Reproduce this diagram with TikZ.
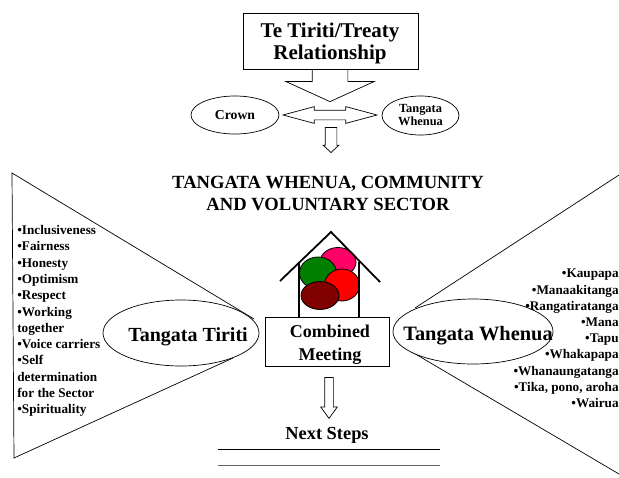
\documentclass[tikz,border=0pt]{standalone}
\usepackage{fontspec}
\setmainfont{Liberation Serif}
\usetikzlibrary{shapes.geometric,shapes.arrows}
\tikzset{
	txt/.style 2 args={font=\bfseries\fontsize{#1}{#2}\selectfont, inner sep=0pt},
	oval/.style={draw, ellipse, fill=white, inner sep=0pt},
	blob/.style={draw, ellipse, line width=0.8pt, inner sep=0pt},
	blockarrow/.style={draw, fill=white, single arrow, rotate=-90, anchor=tip, inner sep=0pt, single arrow head indent=0pt},
}
\begin{document}
\begin{tikzpicture}[x=1pt, y=-1pt, line width=0.7pt]
	\useasboundingbox (0,0) rectangle (619,477);

	% Treaty
	\node[blockarrow, minimum height=37pt, single arrow head extend=26.5pt, single arrow tip angle=131] (treatyarrow) at (330,102) {\rule{0pt}{35pt}};
	\node[draw, fill=white, minimum width=175pt, minimum height=56pt, inner sep=0pt] (treaty) at (330.5,41) {};
	\node[txt={21}{22}, align=center] (treatytext) at (330,43) {Te Tiriti/Treaty\\Relationship};

	% Partners
	\node[oval, minimum width=88pt, minimum height=38pt, txt={13.7}{14}] (crown) at (235,115) {Crown};
	\node[oval, minimum width=77pt, minimum height=39pt, txt={12.4}{13}, align=center] (tangata) at (420.5,115.5) {Tangata\\Whenua};
	\node[draw, fill=white, double arrow, minimum height=94pt, inner sep=0pt, double arrow head extend=3.5pt, double arrow tip angle=30, double arrow head indent=0pt] (partners) at (330,115) {\rule{0pt}{9pt}};
	\node[blockarrow, minimum height=25pt, single arrow head extend=2pt, single arrow tip angle=94] (sectorarrow) at (331,153) {\rule{0pt}{11pt}};

	% Sector
	\node[txt={18.6}{22}, align=center] (sector) at (328,193) {TANGATA WHENUA, COMMUNITY\\AND VOLUNTARY SECTOR};

	% Tiriti side
	\coordinate (ltop) at (12,173);
	\coordinate (lbot) at (14,458);
	\coordinate (ltopend) at (254,319);
	\coordinate (lbotend) at (233,358);
	\draw (ltopend) -- (ltop) -- (lbot) -- (lbotend);
	\node[oval, minimum width=156pt, minimum height=66pt] (tiriti) at (181,333) {};
	\node[txt={20}{20}] (tirititext) at (188,336.5) {Tangata Tiriti};
	\node[txt={13.2}{16.3}, align=left, anchor=north west] (tiritilist) at (17,225) {•Inclusiveness\\•Fairness\\•Honesty\\•Optimism\\•Respect\\•Working\\together\\•Voice carriers\\•Self\\determination\\for the Sector\\•Spirituality};

	% Whenua side
	\coordinate (rtop) at (619,175);
	\coordinate (rbot) at (619,474);
	\coordinate (rtopend) at (415,308);
	\coordinate (rbotend) at (412,352);
	\draw (rtopend) -- (rtop);
	\draw (rbotend) -- (rbot);
	\node[oval, minimum width=160pt, minimum height=65pt] (whenua) at (473,331.5) {};
	\node[txt={20.4}{20}] (whenuatext) at (478,336) {Tangata Whenua};
	\node[txt={13.2}{16.2}, align=right, anchor=north east] (whenualist) at (619,269) {•Kaupapa\\•Manaakitanga\\•Rangatiratanga\\•Mana\\•Tapu\\•Whakapapa\\•Whanaungatanga\\•Tika, pono, aroha\\•Wairua};

	% House
	\node[blob, fill={rgb,255:red,255;green,0;blue,102}, minimum width=36pt, minimum height=29pt] (pink) at (338,262) {};
	\node[blob, fill={rgb,255:red,0;green,128;blue,0}, minimum width=37pt, minimum height=32pt] (green) at (318,273) {};
	\node[blob, fill=red, minimum width=35pt, minimum height=32pt] (redblob) at (342,285) {};
	\node[blob, fill={rgb,255:red,128;green,0;blue,0}, minimum width=38pt, minimum height=28pt] (maroon) at (320,295.5) {};
	\draw[line width=1.8pt] (280,281) -- (331,232) -- (380,282);
	\draw[line width=2.6pt] (299,262) -- (299,317);
	\draw[line width=2.6pt] (359,262) -- (359,317);

	% Meeting
	\node[draw, fill=white, minimum width=124pt, minimum height=49pt, inner sep=0pt] (meeting) at (327,341.5) {};
	\node[txt={18}{23}, align=center] (meetingtext) at (330,345) {Combined\\Meeting};

	% Next steps
	\node[blockarrow, minimum height=41pt, single arrow head extend=4pt, single arrow tip angle=72] (nextarrow) at (329,419) {\rule{0pt}{8pt}};
	\node[txt={18.4}{18}] (next) at (327,435) {Next Steps};
	\coordinate (linea) at (218,449);
	\coordinate (lineb) at (440,449);
	\coordinate (linec) at (218,465);
	\coordinate (lined) at (440,465);
	\draw (linea) -- (lineb);
	\draw[black!60, line width=0.9pt] (linec) -- (lined);
\end{tikzpicture}
\end{document}
